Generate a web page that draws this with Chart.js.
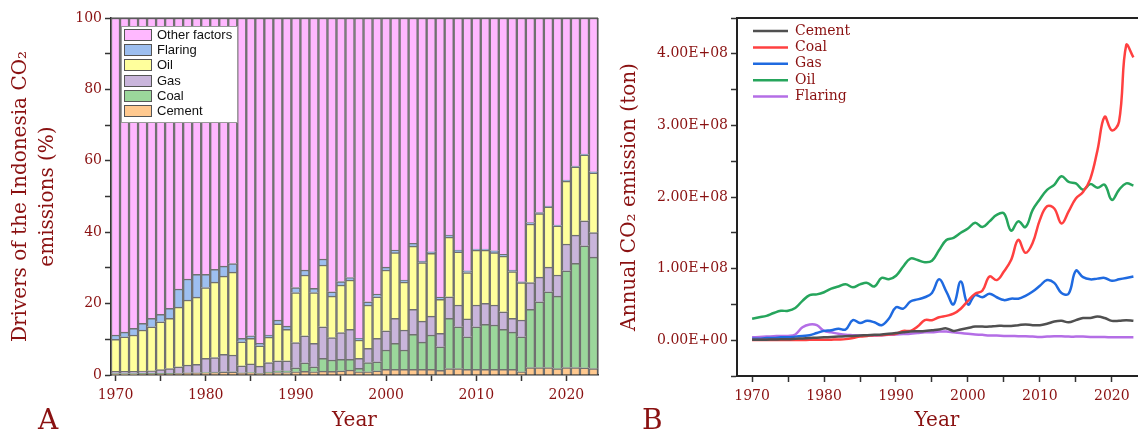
<!DOCTYPE html>
<html>
<head>
<meta charset="utf-8">
<script src="https://cdn.jsdelivr.net/npm/chart.js@4.4.1/dist/chart.umd.min.js"></script>
<style>
  html, body { margin: 0; padding: 0; background: #fff; }
  body { width: 1138px; height: 433px; position: relative; overflow: hidden; }
  #wrapA { position: absolute; left: 0; top: 0; width: 606px; height: 433px; }
  #wrapB { position: absolute; left: 606px; top: 0; width: 532px; height: 433px; }
  .panel { position: absolute; font-family: 'DejaVu Serif', serif; font-size: 28px; line-height: 28px; color: #8a1111; }
</style>
</head>
<body>
<div id="wrapA"><canvas id="chartA" width="606" height="433"></canvas></div>
<div id="wrapB"><canvas id="chartB" width="532" height="433"></canvas></div>
<div class="panel" style="left:38px; top:406px;">A</div>
<div class="panel" style="left:642px; top:406px;">B</div>
<script>
const years = [1970, 1971, 1972, 1973, 1974, 1975, 1976, 1977, 1978, 1979,
  1980, 1981, 1982, 1983, 1984, 1985, 1986, 1987, 1988, 1989,
  1990, 1991, 1992, 1993, 1994, 1995, 1996, 1997, 1998, 1999,
  2000, 2001, 2002, 2003, 2004, 2005, 2006, 2007, 2008, 2009,
  2010, 2011, 2012, 2013, 2014, 2015, 2016, 2017, 2018, 2019,
  2020, 2021, 2022, 2023];

// Panel A - share of the Indonesia CO2 emissions (%)
const cementShare = [0.2, 0.2, 0.2, 0.3, 0.3, 0.3, 0.3, 0.4, 0.5, 0.5,
  0.6, 0.7, 0.8, 0.8, 0.5, 0.6, 0.4, 0.6, 0.7, 0.7,
  0.9, 1.0, 0.9, 1.1, 1.0, 1.2, 1.4, 0.9, 0.9, 1.2,
  1.6, 1.6, 1.6, 1.6, 1.6, 1.6, 1.3, 1.8, 1.8, 1.6,
  1.6, 1.6, 1.6, 1.6, 1.6, 0.9, 2.1, 2.1, 2.1, 1.8,
  2.1, 2.1, 2.0, 1.8];
const coalShare = [0.2, 0.2, 0.2, 0.2, 0.2, 0.2, 0.2, 0.1, 0.1, 0.1,
  0.1, 0.1, 0.1, 0.1, 0.1, 0.1, 0.1, 0.2, 0.5, 0.5,
  1.1, 2.4, 1.4, 3.6, 3.2, 3.2, 3.0, 1.0, 2.6, 2.5,
  5.4, 7.3, 5.4, 9.8, 7.6, 9.6, 6.6, 14.1, 11.7, 9.1,
  11.9, 12.6, 12.4, 11.2, 10.4, 9.8, 16.3, 18.4, 21.2, 20.3,
  27.1, 29.2, 34.2, 31.2];
const gasShare = [0.6, 0.6, 0.6, 0.6, 0.7, 1.0, 1.3, 1.8, 2.2, 2.4,
  4.0, 4.1, 4.9, 4.7, 2.0, 2.4, 2.0, 2.7, 2.8, 2.8,
  7.1, 7.6, 6.6, 8.8, 6.3, 7.5, 8.4, 2.8, 4.0, 6.6,
  5.4, 7.0, 5.6, 7.0, 5.9, 5.3, 3.8, 6.0, 6.1, 5.0,
  6.1, 5.9, 5.6, 4.9, 3.9, 4.7, 7.5, 6.9, 6.9, 5.9,
  7.5, 7.9, 7.0, 6.9];
const oilShare = [9.0, 9.7, 10.2, 11.5, 12.3, 13.4, 14.1, 16.7, 18.2, 18.8,
  19.8, 21.1, 21.9, 23.2, 6.7, 7.2, 5.7, 7.1, 10.3, 8.8,
  14.0, 17.0, 14.2, 17.3, 11.6, 13.3, 13.8, 5.1, 12.1, 11.6,
  17.0, 18.4, 13.4, 17.7, 16.4, 17.6, 9.5, 16.7, 14.9, 13.0,
  15.4, 14.9, 14.7, 15.6, 13.1, 10.5, 16.4, 17.8, 16.9, 13.8,
  17.6, 19.1, 18.5, 16.7];
const flaringShare = [1.2, 1.3, 1.9, 1.9, 2.4, 2.1, 2.8, 5.1, 5.9, 6.4,
  3.7, 3.6, 2.8, 2.4, 1.0, 0.7, 0.7, 0.6, 1.1, 0.9,
  1.4, 1.4, 1.2, 1.7, 1.2, 1.0, 0.7, 0.5, 0.9, 0.8,
  0.8, 0.7, 0.6, 0.8, 0.4, 0.4, 0.6, 0.6, 0.5, 0.5,
  0.3, 0.3, 0.5, 0.5, 0.4, 0.2, 0.4, 0.3, 0.2, 0.2,
  0.3, 0.2, 0.2, 0.3];
const otherShare = [88.8, 88.0, 86.9, 85.5, 84.1, 83.0, 81.3, 75.9, 73.1, 71.8,
  71.8, 70.4, 69.5, 68.8, 89.7, 89.0, 91.1, 88.8, 84.6, 86.3,
  75.5, 70.6, 75.7, 67.5, 76.7, 73.8, 72.7, 89.7, 79.5, 77.3,
  69.8, 65.0, 73.4, 63.1, 68.1, 65.5, 78.2, 60.8, 65.0, 70.8,
  64.7, 64.7, 65.2, 66.2, 70.6, 73.9, 57.3, 54.5, 52.7, 58.0,
  45.4, 41.5, 38.1, 43.1];

// Panel B - annual CO2 emission, in units of 1E+08 ton
const cementE8 = [0.005, 0.006, 0.008, 0.01, 0.012, 0.015, 0.02, 0.025, 0.03, 0.035,
  0.04, 0.045, 0.05, 0.055, 0.06, 0.065, 0.07, 0.075, 0.08, 0.09,
  0.10, 0.11, 0.12, 0.125, 0.13, 0.14, 0.15, 0.165, 0.13, 0.15,
  0.17, 0.19, 0.19, 0.19, 0.20, 0.20, 0.20, 0.21, 0.22, 0.21,
  0.21, 0.23, 0.26, 0.27, 0.25, 0.28, 0.31, 0.31, 0.33, 0.31,
  0.27, 0.27, 0.28, 0.27];
const coalE8 = [0.002, 0.002, 0.002, 0.003, 0.003, 0.003, 0.004, 0.004, 0.005, 0.005,
  0.006, 0.008, 0.01, 0.015, 0.03, 0.05, 0.06, 0.07, 0.07, 0.08,
  0.09, 0.13, 0.13, 0.19, 0.28, 0.28, 0.32, 0.34, 0.37, 0.44,
  0.55, 0.65, 0.69, 0.89, 0.84, 0.96, 1.12, 1.40, 1.22, 1.36,
  1.68, 1.87, 1.84, 1.63, 1.80, 1.98, 2.07, 2.25, 2.65, 3.12,
  2.93, 3.05, 4.12, 3.95];
const gasE8 = [0.02, 0.02, 0.03, 0.03, 0.04, 0.04, 0.05, 0.06, 0.07, 0.10,
  0.13, 0.14, 0.16, 0.15, 0.28, 0.24, 0.27, 0.25, 0.21, 0.30,
  0.46, 0.44, 0.54, 0.57, 0.60, 0.66, 0.85, 0.68, 0.50, 0.82,
  0.50, 0.63, 0.60, 0.65, 0.60, 0.56, 0.58, 0.58, 0.62, 0.68,
  0.76, 0.84, 0.80, 0.66, 0.65, 0.97, 0.88, 0.85, 0.86, 0.87,
  0.83, 0.85, 0.87, 0.89];
const oilE8 = [0.30, 0.32, 0.34, 0.38, 0.41, 0.41, 0.45, 0.55, 0.63, 0.64,
  0.67, 0.72, 0.75, 0.78, 0.74, 0.78, 0.80, 0.75, 0.87, 0.85,
  0.90, 1.03, 1.14, 1.12, 1.09, 1.11, 1.26, 1.40, 1.43, 1.50,
  1.56, 1.64, 1.58, 1.66, 1.75, 1.77, 1.53, 1.66, 1.58, 1.82,
  1.97, 2.10, 2.17, 2.29, 2.21, 2.19, 2.10, 2.18, 2.13, 2.17,
  1.96, 2.10, 2.19, 2.16];
const flaringE8 = [0.04, 0.045, 0.05, 0.055, 0.06, 0.06, 0.08, 0.18, 0.22, 0.21,
  0.13, 0.11, 0.09, 0.075, 0.07, 0.065, 0.065, 0.065, 0.07, 0.075,
  0.08, 0.085, 0.09, 0.10, 0.11, 0.11, 0.12, 0.12, 0.11, 0.10,
  0.09, 0.08, 0.075, 0.065, 0.065, 0.06, 0.06, 0.055, 0.055, 0.05,
  0.045, 0.05, 0.055, 0.055, 0.05, 0.05, 0.05, 0.045, 0.045, 0.045,
  0.04, 0.04, 0.04, 0.04];

const darkRed = '#8a1111';
const serif = "'DejaVu Serif', serif";

// top/right frame line of the plot area
const frame = {
  id: 'frame',
  afterDraw(chart, args, opts) {
    const { ctx, chartArea: a } = chart;
    ctx.save();
    ctx.strokeStyle = opts.color;
    ctx.lineWidth = opts.width;
    ctx.beginPath();
    ctx.moveTo(a.left, a.top);
    ctx.lineTo(a.right + (opts.right ? 0 : 1), a.top);
    if (opts.right) ctx.lineTo(a.right, a.bottom);
    ctx.stroke();
    ctx.restore();
  }
};

// boxed legend for the bar panel
const boxLegend = {
  id: 'boxLegend',
  afterDraw(chart) {
    const ctx = chart.ctx;
    const x = chart.chartArea.left + 10, y = chart.chartArea.top + 8, w = 116, h = 96;
    ctx.save();
    ctx.fillStyle = '#fff';
    ctx.fillRect(x, y, w, h);
    ctx.strokeStyle = '#9a9a9a';
    ctx.lineWidth = 1;
    ctx.strokeRect(x + 0.5, y + 0.5, w, h);
    ctx.font = "13px 'Liberation Sans', Arial, sans-serif";
    ctx.textBaseline = 'middle';
    chart.data.datasets.slice().reverse().forEach((ds, i) => {
      const cy = Math.round(y + 9 + i * 15.2);
      ctx.fillStyle = ds.backgroundColor;
      ctx.fillRect(x + 3, cy - 6, 28, 12);
      ctx.strokeStyle = '#555';
      ctx.strokeRect(x + 3.5, cy - 5.5, 27, 11);
      ctx.fillStyle = '#111';
      ctx.fillText(ds.label, x + 36, cy + 0.5);
    });
    ctx.restore();
  }
};

// line-sample legend for the line panel
const lineLegend = {
  id: 'lineLegend',
  afterDraw(chart) {
    const ctx = chart.ctx;
    const x = chart.chartArea.left + 16;
    ctx.save();
    ctx.font = '14px ' + serif;
    ctx.textBaseline = 'middle';
    chart.data.datasets.forEach((ds, i) => {
      const cy = chart.chartArea.top + 13 + i * 16.4;
      ctx.strokeStyle = ds.borderColor;
      ctx.lineWidth = 2.5;
      ctx.beginPath();
      ctx.moveTo(x, cy);
      ctx.lineTo(x + 35, cy);
      ctx.stroke();
      ctx.fillStyle = darkRed;
      ctx.fillText(ds.label, x + 42, cy);
    });
    ctx.restore();
  }
};

// Panel A
const shareSeries = [
  { label: 'Cement', data: cementShare, color: '#ffc98f' },
  { label: 'Coal', data: coalShare, color: '#9bd79b' },
  { label: 'Gas', data: gasShare, color: '#c9b5db' },
  { label: 'Oil', data: oilShare, color: '#ffff9c' },
  { label: 'Flaring', data: flaringShare, color: '#9dbff0' },
  { label: 'Other factors', data: otherShare, color: '#ffb8ff' }
];

new Chart(document.getElementById('chartA'), {
  type: 'bar',
  data: {
    labels: years,
    datasets: shareSeries.map(s => ({
      label: s.label,
      data: s.data,
      backgroundColor: s.color,
      borderColor: '#707070',
      borderWidth: 1.5,
      barPercentage: 1,
      categoryPercentage: 1
    }))
  },
  options: {
    responsive: false,
    animation: false,
    layout: { padding: { top: 18, right: 8, bottom: 0, left: 0 } },
    plugins: {
      legend: { display: false },
      tooltip: { enabled: false },
      frame: { color: '#444', width: 1, right: true }
    },
    scales: {
      x: {
        stacked: true,
        offset: true,
        grid: {
          offset: false,
          drawOnChartArea: false,
          tickLength: 6,
          tickWidth: 1.5,
          tickColor: c => (years[c.index] % 5 === 0 ? '#333' : 'rgba(0,0,0,0)')
        },
        border: { color: '#333', width: 1.5 },
        ticks: {
          autoSkip: false,
          maxRotation: 0,
          padding: 6,
          color: darkRed,
          font: { family: serif, size: 14 },
          callback: (v, i) => (years[i] % 10 === 0 ? String(years[i]) : '')
        },
        title: { display: true, text: 'Year', color: darkRed, font: { family: serif, size: 20 }, padding: { top: 0, bottom: 0 } },
        afterFit: s => { s.height = 58; }
      },
      y: {
        stacked: true,
        min: 0,
        max: 100,
        grid: { drawOnChartArea: false, tickLength: 6, tickWidth: 1.5, tickColor: '#333' },
        border: { color: '#333', width: 1.5 },
        ticks: {
          stepSize: 10,
          padding: 3,
          color: darkRed,
          font: { family: serif, size: 14 },
          callback: v => (v % 20 === 0 ? String(v) : '')
        },
        title: {
          display: true,
          text: ['Drivers of the Indonesia CO₂', 'emissions (%)'],
          color: darkRed,
          font: { family: serif, size: 20, lineHeight: 1.35 },
          padding: { top: 7, bottom: 0 }
        },
        afterFit: s => { s.width = 111; }
      }
    }
  },
  plugins: [frame, boxLegend]
});

// Panel B
const lineSeries = [
  { label: 'Cement', data: cementE8, color: '#505050' },
  { label: 'Coal', data: coalE8, color: '#ff4040' },
  { label: 'Gas', data: gasE8, color: '#1f6ae0' },
  { label: 'Oil', data: oilE8, color: '#26a55c' },
  { label: 'Flaring', data: flaringE8, color: '#b46ee6' }
];

new Chart(document.getElementById('chartB'), {
  type: 'line',
  data: {
    labels: years,
    datasets: lineSeries.map(s => ({
      label: s.label,
      data: s.data,
      borderColor: s.color,
      borderWidth: 2.5,
      pointRadius: 0,
      tension: 0.4,
      fill: false
    }))
  },
  options: {
    responsive: false,
    animation: false,
    layout: { padding: { top: 18, right: 1, bottom: 0, left: 0 } },
    plugins: {
      legend: { display: false },
      tooltip: { enabled: false },
      frame: { color: '#222', width: 2, right: false }
    },
    scales: {
      x: {
        type: 'linear',
        min: 1967.9,
        max: 2023.5,
        grid: { drawOnChartArea: false, tickLength: 6, tickWidth: 1.5, tickColor: '#333' },
        border: { color: '#222', width: 2 },
        ticks: {
          stepSize: 5,
          includeBounds: false,
          autoSkip: false,
          maxRotation: 0,
          minRotation: 0,
          padding: 6,
          color: darkRed,
          font: { family: serif, size: 14 },
          callback: v => (v % 10 === 0 ? String(v) : '')
        },
        title: { display: true, text: 'Year', color: darkRed, font: { family: serif, size: 20 }, padding: { top: 0, bottom: 0 } },
        afterFit: s => { s.height = 57; }
      },
      y: {
        min: -0.5,
        max: 4.5,
        grid: { drawOnChartArea: false, tickLength: 6, tickWidth: 1.5, tickColor: '#333' },
        border: { color: '#222', width: 2 },
        ticks: {
          stepSize: 0.5,
          includeBounds: false,
          padding: 3,
          color: darkRed,
          font: { family: serif, size: 14 },
          callback: v => {
            const k = Math.round(v * 2);
            return k % 2 === 0 ? (k / 2).toFixed(2) + (k === 0 ? 'E+00' : 'E+08') : '';
          }
        },
        title: {
          display: true,
          text: 'Annual CO₂ emission (ton)',
          color: darkRed,
          font: { family: serif, size: 20 },
          padding: { top: 12, bottom: 0 }
        },
        afterFit: s => { s.width = 131; }
      }
    }
  },
  plugins: [frame, lineLegend]
});
</script>
</body>
</html>
